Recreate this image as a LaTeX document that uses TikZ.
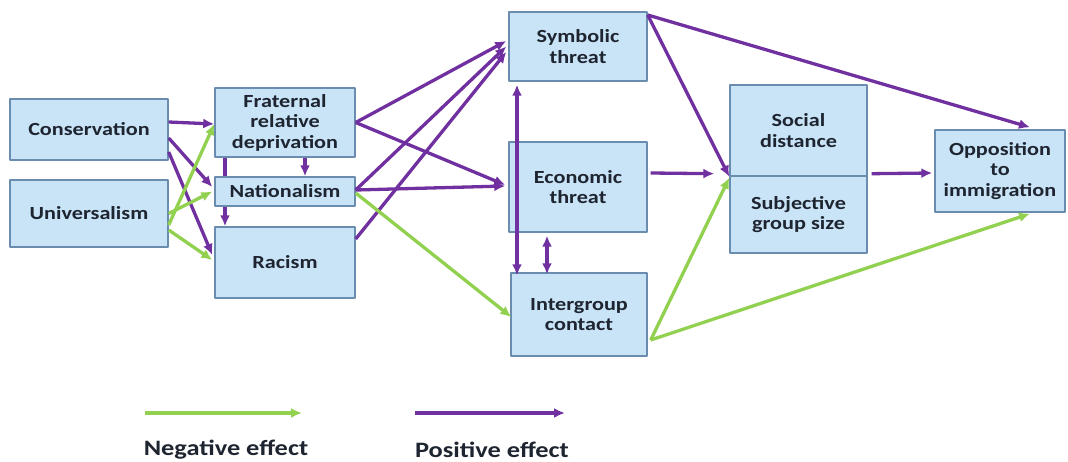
\documentclass[tikz,border=0pt]{standalone}
\usepackage{fontspec}
\setmainfont[FakeStretch=1.2]{Carlito}
\usetikzlibrary{arrows.meta,backgrounds}
\definecolor{boxfill}{HTML}{C9E3F7}
\definecolor{boxedge}{HTML}{6A8CAF}
\definecolor{posline}{HTML}{7030A0}
\definecolor{negline}{HTML}{92D050}
\definecolor{boxtext}{HTML}{1E2530}

\begin{document}
\begin{tikzpicture}[
  x=1pt,
  y=-1pt,
  line join=round,
  box/.style={draw=boxedge,line width=1.4pt,fill=boxfill,align=center,
    inner sep=2pt,text=boxtext,font=\bfseries\fontsize{18.5}{20.5}\selectfont},
  posarrow/.style={draw=posline,line width=3.3pt,-{Latex[length=11pt,width=10pt]}},
  negarrow/.style={draw=negline,line width=3.3pt,-{Latex[length=11pt,width=10pt]}},
  twoway/.style={draw=posline,line width=3.3pt,{Latex[length=11pt,width=10pt]}-{Latex[length=11pt,width=10pt]}},
  legend/.style={text=boxtext,font=\bfseries\fontsize{22}{24}\selectfont}
]
  \useasboundingbox (0,0) rectangle (1068,462);

  % Value orientations (left column).
  \node[box,minimum width=158pt,minimum height=61pt] (cons) at (89,129.5) {Conservation};
  \node[box,minimum width=158pt,minimum height=67pt] (univ) at (89,213.5) {Universalism};

  % Ideological attitudes.
  \node[box,minimum width=140pt,minimum height=69pt] (frat) at (285,122.5) {Fraternal\\relative\\deprivation};
  \node[box,minimum width=140pt,minimum height=29pt] (nat) at (285,191.5) {Nationalism};
  \node[box,minimum width=140pt,minimum height=71pt] (rac) at (285,262.5) {Racism};

  % Perceived threats and contact.
  \node[box,minimum width=138pt,minimum height=69pt] (sym) at (578,46.5) {Symbolic\\threat};
  \node[box,minimum width=138pt,minimum height=90pt] (eco) at (578,187) {Economic\\threat};
  \node[box,minimum width=136pt,minimum height=83pt] (inter) at (579,314.5) {Intergroup\\contact};

  % Stacked mediators share one border.
  \node[box,minimum width=137pt,minimum height=91pt] (soc) at (798.5,130.5) {Social\\distance};
  \node[box,minimum width=137pt,minimum height=77pt] (subj) at (798.5,214.5) {Subjective\\group size};

  \node[box,minimum width=130pt,minimum height=82pt] (opp) at (1000,171) {Opposition\\to\\immigration};

  % This path runs behind the Nationalism box.
  \begin{scope}[on background layer]
    \draw[posarrow] ([xshift=-60pt]frat.south) -- ([xshift=-60pt]rac.north);
  \end{scope}

  % Positive effects.
  \draw[posarrow] ([yshift=7.5pt]cons.east) -- ([yshift=-1.5pt]frat.west);
  \draw[posarrow] ([yshift=-8.5pt]cons.east) -- ([xshift=-2pt,yshift=4.5pt]nat.west);
  \draw[posarrow] ([yshift=-22.5pt]cons.east) -- ([xshift=-2pt,yshift=7.5pt]rac.west);
  \draw[posarrow] ([xshift=20pt]frat.south) -- ([xshift=20pt]nat.north);
  \draw[posarrow] (frat.east) -- ([xshift=-2pt,yshift=5.5pt]sym.west);
  \draw[posarrow] (frat.east) -- ([xshift=-3pt,yshift=2pt]eco.west);
  \draw[posarrow] ([yshift=1.5pt]nat.east) -- ([xshift=-2pt]sym.west);
  \draw[posarrow] ([yshift=1.5pt]nat.east) -- ([xshift=-3pt,yshift=1pt]eco.west);
  \draw[posarrow] ([yshift=23.5pt]rac.east) -- ([xshift=-2pt,yshift=-5.5pt]sym.west);
  \draw[twoway] ([xshift=-61pt,yshift=-3pt]sym.south) -- ([xshift=-61pt,yshift=-3pt]sym.south |- inter.north);
  \draw[twoway] ([xshift=-31pt,yshift=-3pt]eco.south) -- ([xshift=-31pt,yshift=-2pt]eco.south |- inter.north);
  \draw[posarrow] ([yshift=31.5pt]sym.east) -- (soc.south west);
  \draw[posarrow] ([yshift=31.5pt]sym.east) -- ([xshift=30pt,yshift=2pt]opp.north);
  \draw[posarrow] ([xshift=3pt,yshift=14pt]eco.east) -- ([xshift=-15pt,yshift=3pt]soc.south west);
  \draw[posarrow] ([xshift=4pt,yshift=3pt]soc.south east) -- ([xshift=-2pt,yshift=-2pt]opp.west);

  % Negative effects.
  \draw[negarrow] ([yshift=-11.5pt]univ.east) -- ([yshift=-1.5pt]frat.west);
  \draw[negarrow] (univ.east) -- ([xshift=-2pt]nat.west);
  \draw[negarrow] ([yshift=-16.5pt]univ.east) -- ([xshift=-2pt,yshift=2.5pt]rac.west);
  \draw[negarrow] ([yshift=-1.5pt]nat.east) -- ([xshift=1pt,yshift=-2.5pt]inter.west);
  \draw[negarrow] ([xshift=3pt,yshift=-25.5pt]inter.east) -- ([yshift=-1pt]soc.south west);
  \draw[negarrow] ([xshift=3pt,yshift=-25.5pt]inter.east) -- ([xshift=30pt,yshift=-1pt]opp.south);

  % Legend.
  \coordinate (negA) at (145,413);
  \coordinate (negB) at (302,413);
  \coordinate (posA) at (415,413);
  \coordinate (posB) at (565,413);
  \draw[negarrow] (negA) -- (negB);
  \draw[posarrow] (posA) -- (posB);
  \node[legend] (negtext) at (226,450) {Negative effect};
  \node[legend] (postext) at (492,450) {Positive effect};
\end{tikzpicture}
\end{document}
